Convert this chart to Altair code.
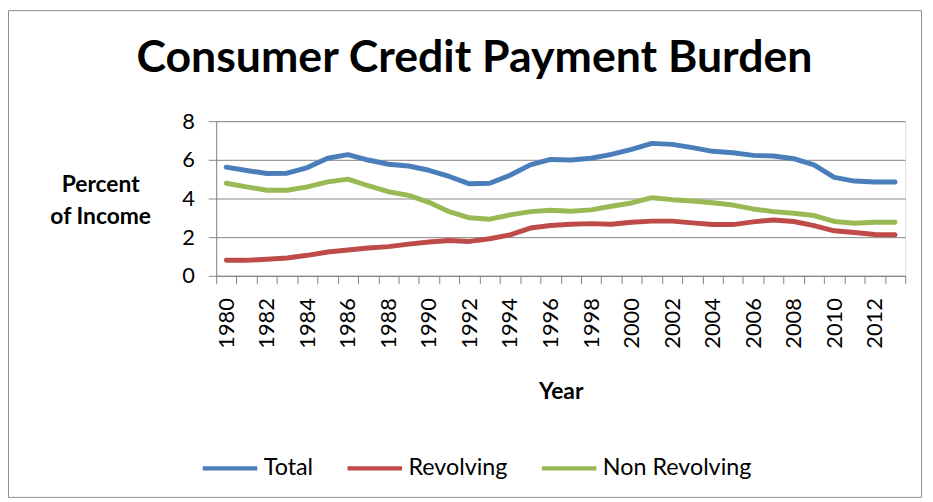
import altair as alt
import pandas as pd

years = list(range(1980, 2014))
total = [5.62, 5.45, 5.29, 5.31, 5.60, 6.08, 6.27, 5.99, 5.77, 5.68, 5.46, 5.14, 4.76, 4.79, 5.20, 5.74, 6.02,
         5.99, 6.08, 6.28, 6.54, 6.85, 6.80, 6.63, 6.44, 6.37, 6.23, 6.20, 6.06, 5.74, 5.09, 4.90, 4.85, 4.85]
revolving = [0.80, 0.80, 0.86, 0.92, 1.06, 1.23, 1.34, 1.44, 1.51, 1.64, 1.75, 1.83, 1.78, 1.92, 2.12, 2.47, 2.60,
             2.67, 2.70, 2.67, 2.77, 2.83, 2.83, 2.74, 2.65, 2.65, 2.79, 2.89, 2.81, 2.60, 2.33, 2.24, 2.14, 2.12]
non_revolving = [4.79, 4.60, 4.43, 4.43, 4.60, 4.86, 5.00, 4.66, 4.35, 4.16, 3.80, 3.32, 3.00, 2.93, 3.15, 3.32, 3.39,
                 3.34, 3.41, 3.60, 3.77, 4.04, 3.94, 3.87, 3.78, 3.66, 3.46, 3.32, 3.24, 3.12, 2.81, 2.72, 2.77, 2.77]
series_names = ["Total", "Revolving", "Non Revolving"]
series_colors = ["#4A7EBB", "#BE4B48", "#98B954"]
y_ticks = [0, 2, 4, 6, 8]

rows = []
for name, vals in zip(series_names, [total, revolving, non_revolving]):
    for yr, v in zip(years, vals):
        rows.append({"Year": yr, "Value": v, "Series": name})
df = pd.DataFrame(rows)

FONT = "Lato"
GRID = "#868686"

lines = alt.Chart(df).mark_line(strokeWidth=5, strokeCap="round", strokeJoin="round").encode(
    x=alt.X("Year:O", bandPosition=0.5,
            scale=alt.Scale(type="band", paddingInner=0, paddingOuter=0),
            axis=alt.Axis(title="Year", labelAngle=-90, labelFontSize=22, labelFont=FONT,
                          labelColor="#000000", labelPadding=14,
                          labelExpr="datum.value % 2 == 0 ? datum.label : ''",
                          tickBand="extent", tickSize=8, tickColor=GRID, domainColor=GRID,
                          titleFont=FONT, titleFontSize=23, titleFontWeight="bold", titleColor="#000000",
                          titleBaseline="alphabetic", titleY=124, grid=False)),
    y=alt.Y("Value:Q", scale=alt.Scale(domain=[0, 8], nice=False),
            axis=alt.Axis(values=y_ticks, title=["Percent", "of Income"], titleAngle=0,
                          titleAlign="center", titleBaseline="alphabetic", titleX=-117, titleY=71,
                          titleLineHeight=32, titleFont=FONT, titleFontSize=23, titleFontWeight="bold",
                          titleColor="#000000",
                          labelFontSize=22, labelFont=FONT, labelColor="#000000", labelPadding=14,
                          tickSize=8, tickColor=GRID, domainColor=GRID,
                          grid=True, gridColor=GRID, gridWidth=1)),
    color=alt.Color("Series:N", scale=alt.Scale(domain=series_names, range=series_colors),
                    legend=alt.Legend(title=None, orient="none", legendX=-16, legendY=320,
                                      direction="horizontal", columns=3, symbolType="stroke",
                                      symbolSize=3025, symbolStrokeWidth=4.5, labelFontSize=23.5,
                                      labelFont=FONT, labelColor="#000000", labelOffset=4,
                                      columnPadding=25)),
)

frame = alt.Chart(pd.DataFrame({"a": [0]})).mark_rect(fill=None, stroke="#8C8C8C", strokeWidth=1).encode(
    x=alt.value(-209.5), x2=alt.value(711.5), y=alt.value(-111.5), y2=alt.value(379.5)
)

chart = alt.layer(frame, lines).properties(
    width=695, height=156,
    autosize=alt.AutoSizeParams(type="none"),
    padding={"left": 210, "top": 112, "right": 20, "bottom": 226},
    title=alt.TitleParams("Consumer Credit Payment Burden", font=FONT, fontSize=45, fontWeight="bold",
                          color="#000000", anchor="middle", dx=-87, offset=0, dy=107, baseline="alphabetic"),
).configure_view(stroke=None).configure(background="white")

chart.save("out.html", embed_options={"renderer": "svg", "actions": False})
